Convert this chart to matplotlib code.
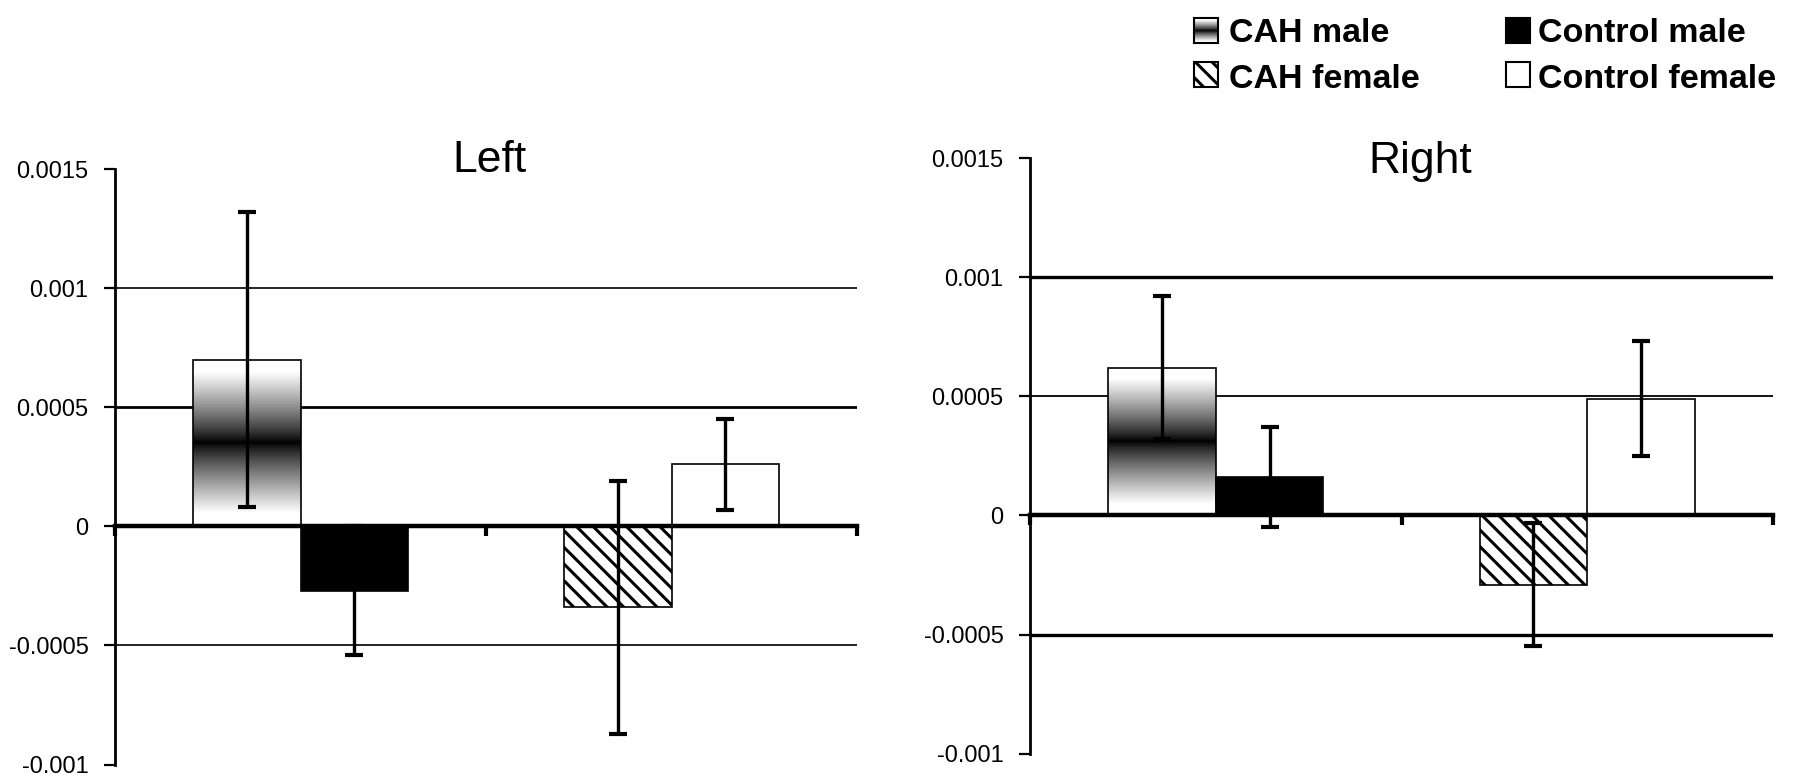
import numpy as np
import matplotlib
matplotlib.use('Agg')
import matplotlib.pyplot as plt
from matplotlib.patches import Rectangle

plt.rcParams['hatch.linewidth'] = 2.2
plt.rcParams['font.family'] = ['Liberation Sans', 'DejaVu Sans']

# ---- data ----
panel_titles = ['Left', 'Right']
series = ['CAH male', 'Control male', 'CAH female', 'Control female']
series_group = [0, 0, 1, 1]      # category (male group / female group)
series_side = [-1, 1, -1, 1]     # left / right bar inside the category

left_means = [0.00070, -0.00027, -0.00034, 0.00026]
left_errs = [0.00062, 0.00027, 0.00053, 0.00019]
right_means = [0.00062, 0.00016, -0.00029, 0.00049]
right_errs = [0.00030, 0.00021, 0.00026, 0.00024]

yticks = [-0.001, -0.0005, 0, 0.0005, 0.001, 0.0015]
ytick_labels = ['-0.001', '-0.0005', '0', '0.0005', '0.001', '0.0015']
grid_vals = [-0.0005, 0.0005, 0.001]

# ---- styles ----
styles = {
    'CAH male': dict(face='none', hatch=None, gradient=True),
    'Control male': dict(face='black', hatch=None, gradient=False),
    'CAH female': dict(face='white', hatch='\\\\', gradient=False),
    'Control female': dict(face='white', hatch=None, gradient=False),
}

t = np.linspace(0, 1, 256)
d = np.abs(2 * t - 1)
grad = (np.clip(d * 1.18, 0, 1) ** 0.85)[:, None]

W, H = 1800, 781
fig = plt.figure(figsize=(W / 100, H / 100), dpi=100)


def draw_panel(rect, means, errs, grid_lw):
    ax = fig.add_axes(rect)
    w = 0.29
    xs = [g + 0.5 + s * w / 2 for g, s in zip(series_group, series_side)]
    for name, x, m in zip(series, xs, means):
        st = styles[name]
        bar = ax.bar([x], [m], width=w, color=st['face'], edgecolor='black',
                     linewidth=1.2, hatch=st['hatch'], zorder=2)[0]
        if st['gradient']:
            im = ax.imshow(grad, extent=[x - w / 2, x + w / 2, 0, m], cmap='gray',
                           vmin=0, vmax=1, aspect='auto', interpolation='bilinear',
                           zorder=1.9)
            im.set_clip_path(bar)
    ax.errorbar(xs, means, yerr=errs, fmt='none', ecolor='black', elinewidth=2.4,
                capsize=6.5, capthick=3, zorder=4)
    for yv, lw in zip(grid_vals, grid_lw):
        ax.axhline(yv, color='black', lw=lw, zorder=1)
    ax.set_xlim(0, 2)
    ax.set_ylim(-0.001, 0.0015)
    for s in ['top', 'right']:
        ax.spines[s].set_visible(False)
    ax.spines['bottom'].set_position(('data', 0))
    ax.spines['bottom'].set_linewidth(3.2)
    ax.spines['bottom'].set_zorder(3)
    ax.spines['left'].set_linewidth(2)
    ax.set_xticks([0, 1, 2])
    ax.tick_params(axis='x', direction='out', length=7, width=3, labelbottom=False)
    ax.set_yticks(yticks)
    ax.set_yticklabels(ytick_labels)
    ax.tick_params(axis='y', direction='out', length=8, width=1.6, labelsize=17, pad=11)
    ax.patch.set_alpha(0)
    return ax


draw_panel([115 / W, 1 - 764.5 / H, (857 - 115) / W, (764.5 - 169) / H],
           left_means, left_errs, [1.2, 2.0, 1.2])
draw_panel([1030 / W, 1 - 753.7 / H, (1773 - 1030) / W, (753.7 - 158) / H],
           right_means, right_errs, [2.4, 1.3, 2.4])

fig.text(490 / W, 1 - 172 / H, panel_titles[0], fontsize=32, ha='center', va='baseline')
fig.text(1420 / W, 1 - 173 / H, panel_titles[1], fontsize=32, ha='center', va='baseline')

# ---- legend ----
leg_pos = {
    'CAH male': (1194, 18, 1229, 42),
    'Control male': (1506, 18, 1538, 42),
    'CAH female': (1194, 62, 1229, 88),
    'Control female': (1506, 62, 1538, 88),
}
bw, bh = 24, 25
for name in series:
    bx, by, tx, ty = leg_pos[name]
    st = styles[name]
    if st['gradient']:
        lax = fig.add_axes([bx / W, 1 - (by + bh) / H, bw / W, bh / H])
        lax.imshow(grad, cmap='gray', vmin=0, vmax=1, aspect='auto', interpolation='bilinear')
        lax.set_xticks([])
        lax.set_yticks([])
        for sp in lax.spines.values():
            sp.set_linewidth(1.5)
    else:
        fig.patches.append(Rectangle((bx / W, 1 - (by + bh) / H), bw / W, bh / H,
                                     transform=fig.transFigure, facecolor=st['face'],
                                     edgecolor='black', linewidth=1.5, hatch=st['hatch']))
    fig.text(tx / W, 1 - ty / H, name, fontsize=24.5, fontweight='bold',
             ha='left', va='baseline')

fig.savefig('out.png', dpi=100)
